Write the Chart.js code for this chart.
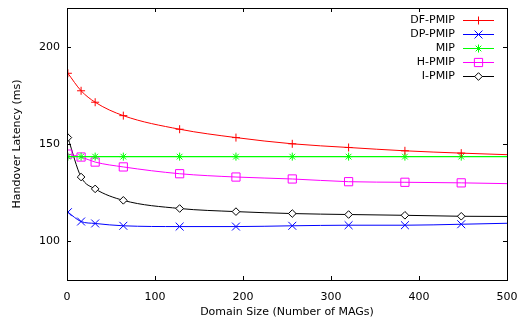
<!DOCTYPE html>
<html>
<head>
<meta charset="utf-8">
<script src="https://cdn.jsdelivr.net/npm/chart.js@4.4.0/dist/chart.umd.min.js"></script>
<style>
 html,body{margin:0;padding:0;background:#fff}
 #wrap{width:517px;height:327px}
</style>
</head>
<body>
<div id="wrap"><canvas id="chart" width="517" height="327"></canvas></div>
<script>
// domain sizes (number of MAGs); last x only carries the curve to the right edge
const domainSizes=[1,16,32,64,128,192,256,320,384,448,500];
const dfPmip=[186.4,177.4,171.5,164.6,157.6,153.3,150.1,148.2,146.5,145.3,144.5];
const dpPmip=[114.9,110.1,109.1,107.9,107.5,107.5,107.9,108.2,108.2,108.7,109.2];
const mip=[143.5,143.5,143.5,143.5,143.5,143.5,143.5,143.5,143.5,143.5,143.5];
const hPmip=[144.8,143.3,140.7,138.2,134.7,133.0,132.0,130.6,130.3,130.0,129.6];
const iPmip=[153.3,133.0,126.9,121.0,116.8,115.2,114.2,113.7,113.3,112.8,112.7];
const seriesNames=['DF-PMIP','DP-PMIP','MIP','H-PMIP','I-PMIP'];
const xTicks=[0,100,200,300,400,500];
const yTicks=[100,150,200];

const FONT='"DejaVu Sans", Verdana, sans-serif';
const styles=[
 {color:'#ff0000',point:'cross',r:4},
 {color:'#0000ff',point:'crossRot',r:5.6},
 {color:'#00ff00',point:'star',r:4},
 {color:'#ff00ff',point:'rect',r:5.8},
 {color:'#000000',point:'rectRot',r:3.8}
];
const values=[dfPmip,dpPmip,mip,hPmip,iPmip];

function mkData(arr){return domainSizes.map((x,i)=>({x:x,y:arr[i]}))}
const datasets=values.map((arr,k)=>({
 label:seriesNames[k],
 data:mkData(arr),
 borderColor:styles[k].color,
 backgroundColor:'rgba(0,0,0,0)',
 borderWidth:k==2?1.4:1,
 pointStyle:styles[k].point,
 pointRadius:domainSizes.map(x=>x>=500?0:styles[k].r),
 pointBorderColor:styles[k].color,
 pointBackgroundColor:k==4?'#fff':'rgba(0,0,0,0)',
 pointBorderWidth:1,
 cubicInterpolationMode:'monotone'
}));

function noPad(s){s.paddingLeft=0;s.paddingRight=0;s.paddingTop=0;s.paddingBottom=0}

// gnuplot style frame: border + inward ticks on all four sides, legend inside top right
const gnuFrame={
 id:'gnuFrame',
 afterDatasetsDraw(chart){
  const c=chart.ctx,a=chart.chartArea,sx=chart.scales.x,sy=chart.scales.y,t=4;
  c.save();
  c.strokeStyle='#000';c.lineWidth=1;
  c.strokeRect(a.left+0.5,a.top+0.5,a.right-a.left,a.bottom-a.top);
  c.beginPath();
  xTicks.forEach(v=>{const p=Math.round(sx.getPixelForValue(v))+0.5;
   c.moveTo(p,a.bottom);c.lineTo(p,a.bottom-t);c.moveTo(p,a.top);c.lineTo(p,a.top+t);});
  yTicks.forEach(v=>{const p=Math.round(sy.getPixelForValue(v))+0.5;
   c.moveTo(a.left,p);c.lineTo(a.left+t,p);c.moveTo(a.right,p);c.lineTo(a.right-t,p);});
  c.stroke();
  // legend
  c.font='11px '+FONT;c.textAlign='right';c.textBaseline='middle';
  const tx=455,l0=463,l1=494,y0=19.5,dy=14.2;
  chart.data.datasets.forEach((d,k)=>{
   const y=Math.round(y0+k*dy)+0.5;
   c.fillStyle='#000';c.fillText(d.label,tx,y);
   c.strokeStyle=d.borderColor;c.lineWidth=1;
   c.beginPath();c.moveTo(l0,y);c.lineTo(l1,y);c.stroke();
   c.fillStyle=k==4?'#fff':'rgba(0,0,0,0)';
   Chart.helpers.drawPoint(c,{pointStyle:d.pointStyle,radius:styles[k].r,rotation:0,borderWidth:1},(l0+l1)/2,y);
  });
  c.restore();
 }
};

new Chart(document.getElementById('chart'),{
 type:'line',
 data:{datasets},
 options:{
  responsive:false,animation:false,
  layout:{padding:{top:8,right:10,left:0,bottom:0}},
  plugins:{legend:{display:false},tooltip:{enabled:false}},
  scales:{
   x:{type:'linear',min:0,max:500,
    afterBuildTicks:s=>{s.ticks=xTicks.map(v=>({value:v}))},
    afterFit:s=>{s.height=47;noPad(s)},
    grid:{display:false,drawTicks:false},border:{display:false},
    ticks:{padding:11,color:'#000',font:{family:FONT,size:11},maxRotation:0},
    title:{display:true,text:'Domain Size (Number of MAGs)',color:'#000',font:{family:FONT,size:11},padding:{top:0,bottom:8}}
   },
   y:{type:'linear',min:80,max:220,
    afterBuildTicks:s=>{s.ticks=yTicks.map(v=>({value:v}))},
    afterFit:s=>{s.width=67;noPad(s)},
    grid:{display:false,drawTicks:false},border:{display:false},
    ticks:{padding:7,color:'#000',font:{family:FONT,size:11}},
    title:{display:true,text:'Handover Latency (ms)',color:'#000',font:{family:FONT,size:11},padding:{top:11,bottom:0}}
   }
  }
 },
 plugins:[gnuFrame]
});
</script>
</body>
</html>
